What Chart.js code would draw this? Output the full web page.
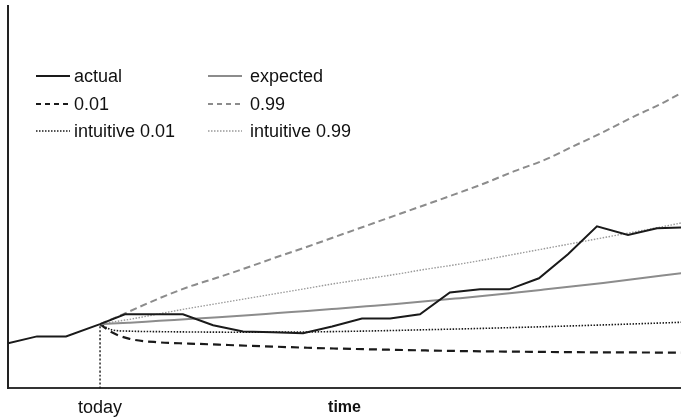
<!DOCTYPE html>
<html>
<head>
<meta charset="utf-8">
<script src="https://cdn.jsdelivr.net/npm/chart.js@4.4.0/dist/chart.umd.min.js"></script>
<style>
  body { margin: 0; background: #fff; }
</style>
</head>
<body>
<canvas id="forecastChart" width="681" height="419"></canvas>
<script>
// days relative to today, values in arbitrary units
const actualDays = [-3.11, -2.13, -1.15, 0, 0.84, 1.82, 2.8, 3.82, 4.83, 5.84, 6.86, 7.84, 8.85, 9.8, 10.81, 11.82, 12.84, 13.82, 14.83, 15.81, 16.79, 17.84, 18.82, 19.63];
const actualValues = [11.8, 13.6, 13.6, 16.8, 19.4, 19.4, 19.4, 16.5, 14.9, 14.7, 14.4, 16.2, 18.3, 18.3, 19.4, 25.1, 25.9, 25.9, 28.8, 35.1, 42.4, 40.1, 41.9, 42.1];

const forecastDays = [0, 0.4, 1, 2, 3, 4, 5, 6, 7, 8, 9, 10, 11, 12, 13, 14, 15, 16, 17, 18, 19, 20];
const expectedValues = [16.8, 16.94, 17.2, 17.67, 18.12, 18.59, 19.1, 19.69, 20.26, 20.86, 21.47, 22.09, 22.77, 23.48, 24.21, 25, 25.84, 26.7, 27.59, 28.53, 29.5, 30.5];
const low01Values = [16.8, 14.66, 12.96, 12.04, 11.73, 11.44, 11.15, 10.89, 10.63, 10.42, 10.24, 10.08, 9.92, 9.79, 9.69, 9.61, 9.53, 9.48, 9.42, 9.4, 9.37, 9.35];
const high99Values = [16.8, 18.1, 20.16, 23.56, 26.57, 29.06, 31.68, 34.42, 37.04, 39.79, 42.54, 45.29, 48.04, 50.79, 53.66, 56.81, 59.69, 63.35, 67.02, 70.94, 74.61, 78.8];
const intuitive01Values = [16.8, 15.31, 14.97, 14.84, 14.76, 14.71, 14.69, 14.71, 14.76, 14.87, 15, 15.16, 15.34, 15.52, 15.71, 15.92, 16.13, 16.36, 16.6, 16.86, 17.12, 17.38];
const intuitive99Values = [16.8, 17.33, 18.06, 19.5, 20.94, 22.25, 23.56, 24.87, 26.18, 27.49, 28.66, 29.84, 31.15, 32.33, 33.64, 35.08, 36.52, 37.96, 39.4, 40.84, 42.28, 43.85];

const tickDays = [0];
const tickLabels = ['today'];
const todayValue = 16.8;

const toPoints = (xs, ys) => xs.map((x, i) => ({ x, y: ys[i] }));

const black = '#1a1a1a';
const gray = '#8c8c8c';

const series = (label, xs, ys, color, width, dash) => ({
    label,
    data: toPoints(xs, ys),
    borderColor: color,
    borderWidth: width,
    borderDash: dash,
    pointRadius: 0,
    fill: false,
    cubicInterpolationMode: label === 'actual' ? 'default' : 'monotone',
    tension: 0
});

Chart.defaults.font.family = "'Liberation Sans', Arial, sans-serif";
Chart.defaults.color = '#111';

// two column legend inside the plot, like the original figure
const cornerLegend = {
    id: 'cornerLegend',
    afterDatasetsDraw(chart) {
        const ctx = chart.ctx;
        const sampleX = [36, 208];
        const textX = [74, 250];
        const rowY = [76, 104, 131];
        const items = chart.data.datasets.filter(ds => ds.label !== 'today');
        ctx.save();
        ctx.font = "18px 'Liberation Sans', Arial, sans-serif";
        ctx.textBaseline = 'middle';
        ctx.fillStyle = '#111';
        items.forEach((ds, i) => {
            const col = i % 2;
            const y = rowY[Math.floor(i / 2)];
            const dash = ds.borderDash && ds.borderDash.length > 0 && ds.borderDash[0] > 3 ? [5, 4] : (ds.borderDash || []);
            ctx.beginPath();
            ctx.strokeStyle = ds.borderColor;
            ctx.lineWidth = ds.borderWidth;
            ctx.setLineDash(dash);
            ctx.moveTo(sampleX[col], y);
            ctx.lineTo(sampleX[col] + 34, y);
            ctx.stroke();
            ctx.setLineDash([]);
            ctx.fillText(ds.label, textX[col], y + 1);
        });
        ctx.restore();
    }
};

new Chart(document.getElementById('forecastChart').getContext('2d'), {
    type: 'line',
    data: {
        datasets: [
            series('actual', actualDays, actualValues, black, 2, []),
            series('expected', forecastDays, expectedValues, gray, 2, []),
            series('0.01', forecastDays, low01Values, black, 2.2, [8, 5]),
            series('0.99', forecastDays, high99Values, gray, 2, [7, 4]),
            series('intuitive 0.01', forecastDays, intuitive01Values, black, 1.6, [1.5, 1.5]),
            series('intuitive 0.99', forecastDays, intuitive99Values, '#999', 1.4, [1.5, 1.5]),
            series('today', [0, 0], [0, todayValue], black, 1.4, [2, 2])
        ]
    },
    options: {
        responsive: false,
        animation: false,
        devicePixelRatio: 1,
        layout: { padding: { left: 8, top: 6, right: 0, bottom: 0 } },
        plugins: {
            legend: { display: false },
            tooltip: { enabled: false }
        },
        scales: {
            x: {
                type: 'linear',
                min: -3.11,
                max: 19.63,
                grid: { display: false, drawTicks: false },
                border: { display: true, color: '#333', width: 2 },
                afterBuildTicks: axis => { axis.ticks = tickDays.map(value => ({ value })); },
                ticks: {
                    callback: (value) => tickLabels[tickDays.indexOf(value)],
                    font: { size: 18 },
                    color: '#111',
                    padding: 9,
                    maxRotation: 0,
                    autoSkip: false
                },
                title: {
                    display: true,
                    text: 'time',
                    font: { size: 16, weight: 'bold' },
                    color: '#111',
                    padding: { top: -30.2, bottom: 2 }
                }
            },
            y: {
                min: 0,
                max: 100,
                grid: { display: false, drawTicks: false },
                border: { display: true, color: '#222', width: 2 },
                ticks: { display: false }
            }
        }
    },
    plugins: [cornerLegend]
});
</script>
</body>
</html>
